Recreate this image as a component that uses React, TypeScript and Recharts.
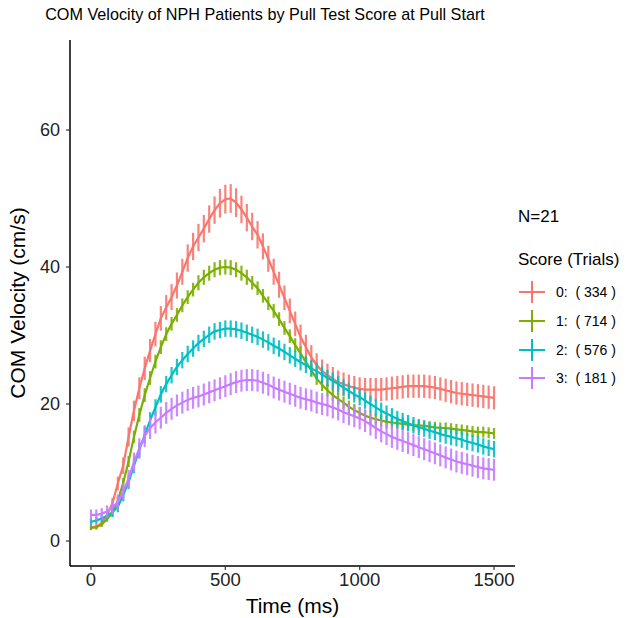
import React from 'react'
import { ErrorBar, Label, Line, LineChart, XAxis, YAxis } from 'recharts'

// sampled every 20 ms, 0..1500
const STEP = 20

const scores = ['0', '1', '2', '3']
const trials = [334, 714, 576, 181]
const colors = ['#F8766D', '#7CAE00', '#00BFC4', '#C77CFF']
const xTicks = [0, 500, 1000, 1500]
const yTicks = [0, 20, 40, 60]

const vel0 = [
  2.0, 2.1, 2.6, 3.8, 5.5, 8.4, 11.0, 15.2, 19.0, 22.3,
  25.2, 27.8, 30.2, 32.5, 34.1, 35.6, 37.3, 39.3, 41.3, 43.0,
  44.3, 45.6, 47.0, 48.3, 49.3, 49.9, 50.0, 49.4, 48.4, 47.2,
  45.9, 44.7, 43.0, 41.2, 39.3, 37.4, 35.5, 33.6, 31.7, 29.8,
  28.3, 26.8, 25.7, 24.8, 24.2, 23.7, 23.2, 22.9, 22.6, 22.4,
  22.2, 22.1, 22.1, 22.1, 22.1, 22.2, 22.3, 22.4, 22.5, 22.6,
  22.6, 22.6, 22.6, 22.5, 22.4, 22.2, 22.0, 21.8, 21.6, 21.5,
  21.4, 21.3, 21.2, 21.1, 21.0, 20.9,
]
const vel1 = [
  1.9, 2.0, 2.4, 3.2, 4.1, 5.9, 8.5, 11.6, 15.2, 18.4,
  21.3, 23.8, 26.2, 28.3, 30.2, 31.7, 33.0, 34.4, 35.6, 36.7,
  37.7, 38.5, 39.1, 39.6, 39.9, 40.0, 39.9, 39.6, 39.1, 38.5,
  37.7, 36.9, 35.8, 34.7, 33.6, 32.4, 31.1, 29.9, 28.6, 27.4,
  26.1, 24.9, 23.7, 22.8, 22.0, 21.3, 20.7, 20.2, 19.6, 19.1,
  18.7, 18.3, 18.0, 17.8, 17.6, 17.4, 17.3, 17.2, 17.1, 17.0,
  16.9, 16.9, 16.8, 16.7, 16.6, 16.5, 16.5, 16.4, 16.3, 16.2,
  16.1, 16.0, 15.9, 15.9, 15.8, 15.7,
]
const vel2 = [
  2.8, 3.0, 3.3, 3.7, 4.2, 5.0, 6.7, 8.6, 11.0, 13.3,
  15.5, 17.6, 19.5, 21.4, 22.9, 24.2, 25.4, 26.4, 27.3, 28.1,
  28.9, 29.5, 30.1, 30.6, 30.8, 31.0, 31.0, 30.9, 30.7, 30.4,
  30.1, 29.8, 29.4, 29.0, 28.5, 28.1, 27.6, 27.1, 26.6, 26.1,
  25.7, 25.2, 24.8, 24.3, 23.8, 23.4, 22.9, 22.4, 21.9, 21.4,
  21.0, 20.5, 20.0, 19.5, 19.0, 18.6, 18.2, 17.8, 17.5, 17.2,
  16.9, 16.6, 16.4, 16.1, 15.9, 15.6, 15.4, 15.2, 15.0, 14.8,
  14.5, 14.3, 14.1, 13.8, 13.6, 13.4,
]
const vel3 = [
  3.8, 3.8, 4.0, 4.3, 4.9, 5.7, 7.2, 9.1, 11.5, 13.5,
  15.3, 16.5, 17.3, 18.0, 18.7, 19.3, 19.8, 20.2, 20.6, 20.9,
  21.1, 21.4, 21.7, 22.0, 22.3, 22.6, 22.9, 23.2, 23.4, 23.5,
  23.5, 23.4, 23.1, 22.8, 22.4, 22.1, 21.8, 21.5, 21.2, 20.9,
  20.7, 20.5, 20.2, 20.0, 19.8, 19.5, 19.2, 18.8, 18.5, 18.2,
  17.9, 17.5, 17.0, 16.5, 16.0, 15.6, 15.2, 14.9, 14.6, 14.3,
  14.0, 13.7, 13.4, 13.1, 12.8, 12.5, 12.2, 11.9, 11.6, 11.4,
  11.2, 11.0, 10.8, 10.6, 10.5, 10.4,
]

// standard error (half bar height)
const err0 = [
  0.4, 0.4, 0.5, 0.6, 0.8, 1.0, 1.2, 1.4, 1.5, 1.6,
  1.7, 1.7, 1.8, 1.8, 1.8, 1.9, 1.9, 1.9, 2.0, 2.0,
  2.0, 2.0, 2.0, 2.0, 2.1, 2.1, 2.1, 2.1, 2.0, 2.0,
  2.0, 2.0, 1.9, 1.9, 1.9, 1.9, 1.8, 1.8, 1.8, 1.8,
  1.8, 1.8, 1.7, 1.7, 1.7, 1.7, 1.7, 1.7, 1.7, 1.7,
  1.7, 1.7, 1.7, 1.7, 1.7, 1.7, 1.7, 1.7, 1.7, 1.7,
  1.7, 1.7, 1.7, 1.7, 1.7, 1.7, 1.7, 1.7, 1.7, 1.7,
  1.7, 1.7, 1.7, 1.7, 1.7, 1.7,
]
const err1 = [
  0.3, 0.3, 0.3, 0.4, 0.5, 0.6, 0.7, 0.8, 0.9, 1.0,
  1.0, 1.0, 1.0, 1.0, 1.0, 1.0, 1.0, 1.0, 1.0, 1.0,
  1.1, 1.1, 1.1, 1.1, 1.1, 1.1, 1.1, 1.1, 1.1, 1.1,
  1.0, 1.0, 1.0, 1.0, 1.0, 1.0, 1.0, 1.0, 1.0, 1.0,
  0.9, 0.9, 0.9, 0.9, 0.9, 0.9, 0.9, 0.9, 0.9, 0.9,
  0.9, 0.9, 0.9, 0.9, 0.9, 0.9, 0.9, 0.9, 0.9, 0.9,
  0.8, 0.8, 0.8, 0.8, 0.8, 0.8, 0.8, 0.8, 0.8, 0.8,
  0.8, 0.8, 0.8, 0.8, 0.8, 0.8,
]
const err2 = [
  0.5, 0.5, 0.5, 0.6, 0.7, 0.8, 0.9, 1.0, 1.1, 1.1,
  1.2, 1.2, 1.2, 1.2, 1.2, 1.2, 1.2, 1.2, 1.2, 1.2,
  1.2, 1.2, 1.2, 1.2, 1.2, 1.2, 1.2, 1.2, 1.2, 1.2,
  1.2, 1.2, 1.2, 1.2, 1.2, 1.2, 1.2, 1.2, 1.2, 1.2,
  1.2, 1.2, 1.2, 1.2, 1.2, 1.2, 1.2, 1.2, 1.2, 1.2,
  1.2, 1.2, 1.2, 1.2, 1.2, 1.2, 1.2, 1.2, 1.2, 1.2,
  1.2, 1.2, 1.2, 1.2, 1.2, 1.2, 1.2, 1.2, 1.2, 1.2,
  1.2, 1.2, 1.2, 1.2, 1.2, 1.2,
]
const err3 = [
  0.8, 0.8, 0.8, 0.9, 1.0, 1.1, 1.2, 1.3, 1.4, 1.5,
  1.6, 1.6, 1.6, 1.6, 1.6, 1.6, 1.6, 1.6, 1.6, 1.6,
  1.6, 1.6, 1.6, 1.6, 1.6, 1.6, 1.6, 1.6, 1.6, 1.6,
  1.6, 1.6, 1.6, 1.6, 1.6, 1.6, 1.6, 1.6, 1.6, 1.6,
  1.6, 1.6, 1.6, 1.6, 1.6, 1.6, 1.6, 1.6, 1.6, 1.6,
  1.6, 1.6, 1.6, 1.6, 1.6, 1.6, 1.6, 1.6, 1.6, 1.6,
  1.6, 1.6, 1.6, 1.6, 1.6, 1.6, 1.6, 1.6, 1.6, 1.6,
  1.6, 1.6, 1.6, 1.6, 1.6, 1.6,
]

const vels = [vel0, vel1, vel2, vel3]
const errs = [err0, err1, err2, err3]

const data = vel0.map((_, i) => {
  const row: any = { t: i * STEP }
  vels.forEach((v, k) => {
    row['s' + k] = v[i]
    row['e' + k] = errs[k][i]
  })
  return row
})

const FONT = '"Liberation Sans", Arial, sans-serif'

function ScoreLegend() {
  return (
    <div style={{ position: 'absolute', left: 518, top: 207, fontFamily: FONT, color: '#000' }}>
      <div style={{ fontSize: 17, lineHeight: '20px', marginBottom: 23 }}>N=21</div>
      <div style={{ fontSize: 17, lineHeight: '20px', marginBottom: 8 }}>Score (Trials)</div>
      {scores.map((s, i) => (
        <div key={s} style={{ display: 'flex', alignItems: 'center', height: 28.7 }}>
          <svg width={28} height={22} style={{ marginRight: 10 }}>
            <line x1={1} x2={27} y1={11} y2={11} stroke={colors[i]} strokeWidth={2} />
            <line x1={14} x2={14} y1={0} y2={22} stroke={colors[i]} strokeWidth={2} />
          </svg>
          <span style={{ fontSize: 14, whiteSpace: 'pre' }}>{`${s}:  ( ${trials[i]} )`}</span>
        </div>
      ))}
    </div>
  )
}

export default function App() {
  return (
    <div style={{ position: 'absolute', left: 0, top: 0, width: 628, height: 618, background: '#fff' }}>
      <div
        style={{
          position: 'absolute', left: 0, top: 5, width: 530, textAlign: 'center',
          fontFamily: FONT, fontSize: 16.2, color: '#000',
        }}
      >
        COM Velocity of NPH Patients by Pull Test Score at Pull Start
      </div>
      <LineChart width={628} height={618} data={data} margin={{ top: 40, right: 113, bottom: 0, left: 0 }}>
        <XAxis
          dataKey="t"
          type="number"
          domain={[-78, 1578]}
          ticks={xTicks}
          allowDataOverflow
          height={52}
          tickSize={4}
          tickMargin={3}
          tick={{ fontSize: 18.5, fill: '#222', fontFamily: FONT }}
          axisLine={{ stroke: '#000', strokeWidth: 1.5 }}
          tickLine={{ stroke: '#333', strokeWidth: 1.2 }}
        >
          <Label value="Time (ms)" position="center" dy={14} style={{ fontSize: 21, fill: '#000', fontFamily: FONT }} />
        </XAxis>
        <YAxis
          type="number"
          domain={[-3.65, 73.14]}
          ticks={yTicks}
          allowDataOverflow
          width={70}
          tickSize={4}
          tickMargin={6}
          tick={{ fontSize: 18, fill: '#222', fontFamily: FONT }}
          axisLine={{ stroke: '#000', strokeWidth: 1.5 }}
          tickLine={{ stroke: '#333', strokeWidth: 1.2 }}
        >
          <Label value="COM Velocity (cm/s)" angle={-90} position="center" dx={-17} style={{ fontSize: 21, fill: '#000', fontFamily: FONT, textAnchor: 'middle' }} />
        </YAxis>
        {scores.map((s, k) => (
          <Line
            key={s}
            dataKey={'s' + k}
            name={`${s}:  ( ${trials[k]} )`}
            stroke={colors[k]}
            strokeWidth={2.2}
            dot={false}
            type="linear"
            isAnimationActive={false}
          >
            <ErrorBar dataKey={'e' + k} width={0} stroke={colors[k]} strokeWidth={2.2} strokeOpacity={0.9} direction="y" />
          </Line>
        ))}
      </LineChart>
      <ScoreLegend />
    </div>
  )
}
